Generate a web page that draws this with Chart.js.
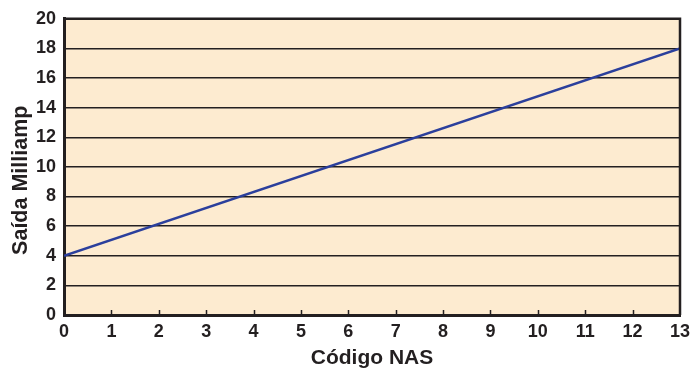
<!DOCTYPE html>
<html>
<head>
<meta charset="utf-8">
<script src="https://cdn.jsdelivr.net/npm/chart.js@4.4.1/dist/chart.umd.min.js"></script>
<style>
  html, body { margin: 0; padding: 0; background: #fff; }
  #wrap { width: 690px; height: 370px; }
</style>
</head>
<body>
<div id="wrap"><canvas id="mychart"></canvas></div>
<script>
// values
const nasCodes = [0, 13]
const milliamps = [4, 18]
const xTicks = [0, 1, 2, 3, 4, 5, 6, 7, 8, 9, 10, 11, 12, 13]
const yTicks = [0, 2, 4, 6, 8, 10, 12, 14, 16, 18, 20]
const yTitle = 'Saída Milliamp'

const ink = '#231f20'
const fontFam = '"Liberation Sans", Arial, Helvetica, sans-serif'

// peach background under the grid, inner x ticks + top/right border on top
const plotDeco = {
    id: 'plotDeco',
    beforeDraw(chart) {
        const a = chart.chartArea
        const c = chart.ctx
        c.save()
        c.fillStyle = '#fdebd0'
        c.fillRect(a.left, a.top, a.right - a.left, a.bottom - a.top)
        c.restore()
    },
    afterDraw(chart) {
        const a = chart.chartArea
        const c = chart.ctx
        const xs = chart.scales.x
        const ys = chart.scales.y
        c.save()
        c.strokeStyle = ink
        c.lineWidth = 1.5
        xTicks.forEach(v => {
            if (v === 0 || v === 13) return
            const px = Math.round(xs.getPixelForValue(v)) + 0.5
            c.beginPath()
            c.moveTo(px, a.bottom)
            c.lineTo(px, a.bottom - 5)
            c.stroke()
        })
        c.lineWidth = 2.5
        c.beginPath()
        c.moveTo(a.left, a.top)
        c.lineTo(a.right, a.top)
        c.lineTo(a.right, a.bottom)
        c.stroke()

        // y title sits a bit below the axis middle in the original
        c.translate(21, ys.getPixelForValue(9.1))
        c.rotate(-Math.PI / 2)
        c.fillStyle = ink
        c.font = 'bold 21.5px ' + fontFam
        c.textAlign = 'center'
        c.textBaseline = 'middle'
        c.fillText(yTitle, 0, 0)
        c.restore()
    }
}

new Chart(document.getElementById('mychart'), {
    type: 'line',
    data: {
        datasets: [{
            data: nasCodes.map((x, i) => ({ x: x, y: milliamps[i] })),
            borderColor: '#2b3f9c',
            borderWidth: 2.5,
            pointRadius: 0,
            fill: false,
            tension: 0
        }]
    },
    options: {
        animation: false,
        responsive: true,
        maintainAspectRatio: false,
        layout: { padding: { left: 0, top: 18, right: 10, bottom: 0 } },
        plugins: { legend: { display: false }, tooltip: { enabled: false } },
        scales: {
            x: {
                type: 'linear',
                min: 0,
                max: 13,
                afterBuildTicks: s => { s.ticks = xTicks.map(v => ({ value: v })) },
                afterFit: s => { s.height = 55; s.paddingRight = 0; s.paddingLeft = 0 },
                grid: { drawOnChartArea: false, drawTicks: false },
                border: { display: true, width: 3, color: ink },
                ticks: {
                    padding: 6,
                    color: ink,
                    maxRotation: 0,
                    font: { family: fontFam, size: 18, weight: 'bold' }
                },
                title: {
                    display: true,
                    text: 'Código NAS',
                    color: ink,
                    padding: { top: 0, bottom: -1 },
                    font: { family: fontFam, size: 21, weight: 'bold' }
                }
            },
            y: {
                min: 0,
                max: 20,
                afterBuildTicks: s => { s.ticks = yTicks.map(v => ({ value: v })) },
                afterFit: s => { s.width = 64 },
                grid: { color: ink, lineWidth: 1.5, drawTicks: false },
                border: { display: true, width: 3, color: ink },
                ticks: {
                    padding: 8,
                    color: ink,
                    font: { family: fontFam, size: 18, weight: 'bold' }
                },
                title: { display: false }
            }
        }
    },
    plugins: [plotDeco]
})
</script>
</body>
</html>
